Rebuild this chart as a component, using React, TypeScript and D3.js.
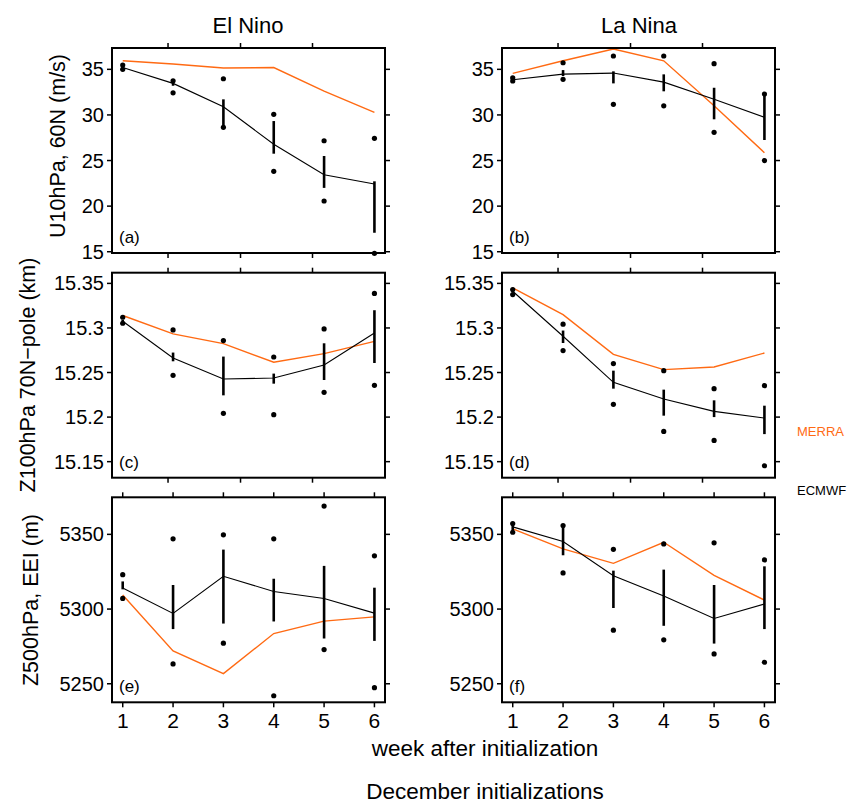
import React from "react";
import * as d3 from "d3";

const weeks = [1, 2, 3, 4, 5, 6];
const frameTicks = [1.9, 3.34, 4.77];
const u10Ticks = [15, 20, 25, 30, 35];
const z100Ticks = [15.15, 15.2, 15.25, 15.3, 15.35];
const z500Ticks = [5250, 5300, 5350];

// (a) El Nino U10
const aMean = [35.2, 33.46, 30.9, 26.78, 23.44, 22.42];
const aLo = [35.05, 33.2, 28.82, 25.75, 22.0, 17.08];
const aHi = [35.35, 33.75, 31.71, 29.33, 25.5, 22.72];
const aDotHi = [35.47, 33.75, 33.97, 30.07, 27.17, 27.43];
const aDotLo = [35.0, 32.43, 28.64, 23.82, 20.56, 14.82];
const aMerra = [35.94, 35.58, 35.14, 35.2, 32.62, 30.28];

// (b) La Nina U10
const bMean = [33.86, 34.48, 34.59, 33.6, 31.71, 29.74];
const bLo = [33.7, 34.27, 33.46, 32.59, 29.52, 27.25];
const bHi = [34.0, 34.92, 34.78, 34.45, 32.98, 32.29];
const bDotHi = [34.08, 35.72, 36.46, 36.46, 35.62, 32.29];
const bDotLo = [33.72, 33.9, 31.16, 31.0, 28.09, 25.0];
const bMerra = [34.56, 35.94, 37.23, 35.94, 31.0, 25.86];

// (c) El Nino Z100
const cMean = [15.3075, 15.2663, 15.2427, 15.2438, 15.2584, 15.2944];
const cLo = [15.306, 15.2626, 15.2244, 15.2375, 15.2416, 15.2607];
const cHi = [15.309, 15.2724, 15.2679, 15.2488, 15.2828, 15.3199];
const cDotHi = [15.312, 15.2978, 15.2858, 15.2674, 15.2989, 15.3387];
const cDotLo = [15.3053, 15.2469, 15.2042, 15.2027, 15.2278, 15.2356];
const cMerra = [15.314, 15.2933, 15.2825, 15.2615, 15.2712, 15.285];

// (d) La Nina Z100
const dMean = [15.3412, 15.2907, 15.239, 15.2202, 15.2064, 15.1989];
const dLo = [15.34, 15.2831, 15.2319, 15.2016, 15.2, 15.1809];
const dHi = [15.3425, 15.2971, 15.2521, 15.2308, 15.2188, 15.2128];
const dDotHi = [15.3431, 15.3042, 15.26, 15.2521, 15.2319, 15.2353];
const dDotLo = [15.3375, 15.2746, 15.2143, 15.1839, 15.1738, 15.1454];
const dMerra = [15.345, 15.315, 15.2704, 15.2533, 15.2562, 15.2719];

// (e) El Nino Z500
const eMean = [5314.1, 5297.1, 5321.9, 5311.8, 5307.1, 5297.3];
const eLo = [5313.2, 5286.6, 5290.3, 5291.7, 5280.3, 5278.7];
const eHi = [5318.5, 5316.1, 5339.8, 5320.3, 5328.9, 5314.3];
const eDotHi = [5323.0, 5347, 5349.7, 5347, 5368.9, 5335.6];
const eDotLo = [5307.1, 5263.3, 5277.2, 5242, 5272.9, 5247.4];
const eMerra = [5309.4, 5272, 5256.8, 5283.6, 5291.9, 5294.8];

// (f) La Nina Z500
const fMean = [5355, 5345.2, 5322.3, 5308.7, 5293.7, 5303.4];
const fLo = [5352.5, 5336, 5300.7, 5288.8, 5276.9, 5286.6];
const fHi = [5357, 5355.7, 5325.7, 5326.4, 5316.1, 5328.6];
const fDotHi = [5357.2, 5355.9, 5340, 5343.6, 5344.3, 5332.9];
const fDotLo = [5351.4, 5324.2, 5285.9, 5279.4, 5270, 5264.4];
const fMerra = [5353.7, 5340.3, 5330.6, 5344.7, 5322.5, 5306];

const ORANGE = "#ff6a13";
const FONT = "'Liberation Sans', Arial, Helvetica, sans-serif";

const colX = [112, 502];
const panelW = 273;
const rowY = [48, 272.7, 497.3];
const panelH = 205;

const rows = [
  { domain: [14.86, 37.34], ticks: u10Ticks, xTicks: frameTicks, bottomLabels: false },
  { domain: [15.132, 15.362], ticks: z100Ticks, xTicks: frameTicks, bottomLabels: false },
  { domain: [5237.6, 5374.8], ticks: z500Ticks, xTicks: weeks, bottomLabels: true },
];

const panels = [
  { r: 0, c: 0, tag: "(a)", mean: aMean, lo: aLo, hi: aHi, dh: aDotHi, dl: aDotLo, merra: aMerra },
  { r: 0, c: 1, tag: "(b)", mean: bMean, lo: bLo, hi: bHi, dh: bDotHi, dl: bDotLo, merra: bMerra },
  { r: 1, c: 0, tag: "(c)", mean: cMean, lo: cLo, hi: cHi, dh: cDotHi, dl: cDotLo, merra: cMerra },
  { r: 1, c: 1, tag: "(d)", mean: dMean, lo: dLo, hi: dHi, dh: dDotHi, dl: dDotLo, merra: dMerra },
  { r: 2, c: 0, tag: "(e)", mean: eMean, lo: eLo, hi: eHi, dh: eDotHi, dl: eDotLo, merra: eMerra },
  { r: 2, c: 1, tag: "(f)", mean: fMean, lo: fLo, hi: fHi, dh: fDotHi, dl: fDotLo, merra: fMerra },
];

function Panel({ p }: { p: any }) {
  const row = rows[p.r];
  const x0 = colX[p.c];
  const y0 = rowY[p.r];
  const x = d3.scaleLinear().domain([0.787, 6.21]).range([x0, x0 + panelW]);
  const y = d3.scaleLinear().domain(row.domain).range([y0 + panelH, y0]);
  const line = d3
    .line<number>()
    .x((_, i) => x(weeks[i]))
    .y((v) => y(v));
  const T = 5;
  return (
    <g>
      {row.ticks.map((t: number) => (
        <g key={"y" + t}>
          <line x1={x0 - T} x2={x0} y1={y(t)} y2={y(t)} stroke="#000" strokeWidth={1.5} />
          <line x1={x0 + panelW} x2={x0 + panelW + T} y1={y(t)} y2={y(t)} stroke="#000" strokeWidth={1.5} />
          <text
            x={x0 - T - 3}
            y={y(t)}
            textAnchor="end"
            dominantBaseline="central"
            fontSize={20}
            fontFamily={FONT}
          >
            {String(t)}
          </text>
        </g>
      ))}
      {row.xTicks.map((t: number) => (
        <g key={"x" + t}>
          <line x1={x(t)} x2={x(t)} y1={y0 - T} y2={y0} stroke="#000" strokeWidth={1.5} />
          <line x1={x(t)} x2={x(t)} y1={y0 + panelH} y2={y0 + panelH + T} stroke="#000" strokeWidth={1.5} />
          {row.bottomLabels && (
            <text
              x={x(t)}
              y={y0 + panelH + 26}
              textAnchor="middle"
              fontSize={21}
              fontFamily={FONT}
            >
              {String(t)}
            </text>
          )}
        </g>
      ))}
      <path d={line(p.merra) || ""} fill="none" stroke={ORANGE} strokeWidth={1.4} />
      <path d={line(p.mean) || ""} fill="none" stroke="#000" strokeWidth={1.1} />
      {weeks.map((w, i) => (
        <line
          key={"e" + w}
          x1={x(w)}
          x2={x(w)}
          y1={y(p.lo[i])}
          y2={y(p.hi[i])}
          stroke="#000"
          strokeWidth={2.6}
        />
      ))}
      {weeks.map((w, i) => (
        <g key={"d" + w}>
          <circle cx={x(w)} cy={y(p.dh[i])} r={2.6} fill="#000" />
          <circle cx={x(w)} cy={y(p.dl[i])} r={2.6} fill="#000" />
        </g>
      ))}
      <rect x={x0} y={y0} width={panelW} height={panelH} fill="none" stroke="#000" strokeWidth={2} />
      <text x={x0 + 7} y={y0 + panelH - 10} fontSize={17} fontFamily={FONT}>
        {p.tag}
      </text>
    </g>
  );
}

export default function App() {
  return (
    <svg
      width={851}
      height={803}
      style={{ position: "absolute", left: 0, top: 0, background: "#fff" }}
    >
      <rect x={0} y={0} width={851} height={803} fill="#fff" />
      <text x={248} y={33} textAnchor="middle" fontSize={22} fontFamily={FONT}>
        El Nino
      </text>
      <text x={639} y={33} textAnchor="middle" fontSize={22} fontFamily={FONT}>
        La Nina
      </text>
      {panels.map((p) => (
        <Panel key={p.tag} p={p} />
      ))}
      <text
        transform="translate(65,146) rotate(-90)"
        textAnchor="middle"
        fontSize={21.5}
        fontFamily={FONT}
      >
        U10hPa, 60N (m/s)
      </text>
      <text
        transform="translate(35,375) rotate(-90)"
        textAnchor="middle"
        fontSize={21.5}
        fontFamily={FONT}
      >
        Z100hPa 70N−pole (km)
      </text>
      <text
        transform="translate(38,600) rotate(-90)"
        textAnchor="middle"
        fontSize={21.5}
        fontFamily={FONT}
      >
        Z500hPa, EEI (m)
      </text>
      <text x={485} y={756} textAnchor="middle" fontSize={22.5} fontFamily={FONT}>
        week after initialization
      </text>
      <text x={485} y={799} textAnchor="middle" fontSize={22.5} fontFamily={FONT}>
        December initializations
      </text>
      <text x={797} y={436} fontSize={13} fontFamily={FONT} fill={ORANGE}>
        MERRA
      </text>
      <text x={797} y={495} fontSize={13} fontFamily={FONT} fill="#000">
        ECMWF
      </text>
    </svg>
  );
}
